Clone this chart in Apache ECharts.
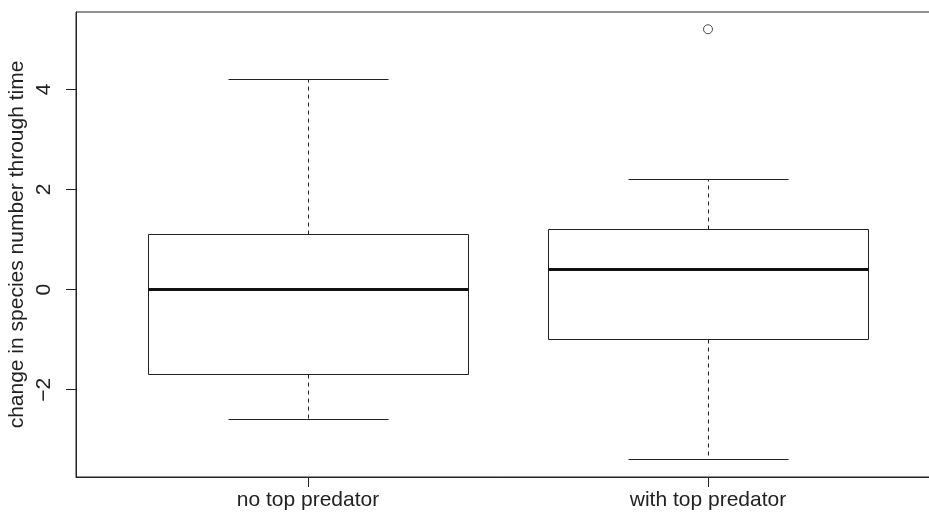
<!DOCTYPE html>
<html>
<head>
<meta charset="utf-8">
<script src="https://cdn.jsdelivr.net/npm/echarts@6/dist/echarts.min.js"></script>
<style>
  html, body { margin: 0; padding: 0; background: #fff; }
  #chart { width: 929px; height: 517px; }
</style>
</head>
<body>
<div id="chart"></div>
<script>
// Group labels and their positions on the x scale
var categories = ['no top predator', 'with top predator'];
var positions = [1, 2];

// Five-number summaries per group
var whiskerLow = [-2.6, -3.4];
var lowerQuartile = [-1.7, -1.0];
var medians = [0, 0.4];
var upperQuartile = [1.1, 1.2];
var whiskerHigh = [4.2, 2.2];

// Points beyond the whiskers
var outlierPositions = [2];
var outlierValues = [5.2];

// Tick marks
var yTicks = [-2, 0, 2, 4];
var xTicks = positions;

var FONT = '"Liberation Sans", Arial, Helvetica, sans-serif';
var INK = '#222';
var FONT_SIZE = 21;

var boxData = positions.map(function (p, i) {
  return [p, whiskerLow[i], lowerQuartile[i], medians[i], upperQuartile[i], whiskerHigh[i]];
});
var outlierData = outlierPositions.map(function (p, i) { return [p, outlierValues[i]]; });

function crisp(v) { return Math.round(v - 0.5) + 0.5; }

function renderBox(params, api) {
  var x = api.value(0);
  var cx = crisp(api.coord([x, 0])[0]);
  var yLow = crisp(api.coord([x, api.value(1)])[1]);
  var yQ1 = crisp(api.coord([x, api.value(2)])[1]);
  var yMed = api.coord([x, api.value(3)])[1];
  var yQ3 = crisp(api.coord([x, api.value(4)])[1]);
  var yHigh = crisp(api.coord([x, api.value(5)])[1]);
  var halfBox = api.size([0.8, 0])[0] / 2;
  var halfCap = api.size([0.4, 0])[0] / 2;
  var left = crisp(cx - halfBox), right = crisp(cx + halfBox);
  var thin = { stroke: INK, lineWidth: 1, fill: null };
  var dashed = { stroke: INK, lineWidth: 1, lineDash: [4, 4], fill: null };
  return {
    type: 'group',
    children: [
      { type: 'line', shape: { x1: cx, y1: yQ3, x2: cx, y2: yHigh }, style: dashed },
      { type: 'line', shape: { x1: cx, y1: yQ1, x2: cx, y2: yLow }, style: dashed },
      { type: 'line', shape: { x1: cx - halfCap, y1: yHigh, x2: cx + halfCap, y2: yHigh }, style: thin },
      { type: 'line', shape: { x1: cx - halfCap, y1: yLow, x2: cx + halfCap, y2: yLow }, style: thin },
      { type: 'rect', shape: { x: left, y: yQ3, width: right - left, height: yQ1 - yQ3 }, style: { stroke: INK, lineWidth: 1, fill: '#fff' } },
      { type: 'line', shape: { x1: left, y1: yMed, x2: right, y2: yMed }, style: { stroke: '#111', lineWidth: 3 } }
    ]
  };
}

var chart = echarts.init(document.getElementById('chart'), null, { renderer: 'canvas' });
chart.setOption({
  animation: false,
  backgroundColor: '#fff',
  grid: {
    left: 76, top: 12, width: 864, height: 465,
    show: true, borderColor: INK, borderWidth: 1, backgroundColor: 'transparent',
    containLabel: false,
    outerBoundsMode: 'none'
  },
  xAxis: {
    type: 'value', min: 0.42, max: 2.58,
    axisLine: { show: true, onZero: false, lineStyle: { color: INK, width: 1 } },
    axisTick: { show: true, customValues: xTicks, length: 10, lineStyle: { color: INK } },
    axisLabel: {
      customValues: xTicks, margin: 13, color: INK, fontFamily: FONT, fontSize: FONT_SIZE,
      formatter: function (v) { return categories[positions.indexOf(v)]; }
    },
    splitLine: { show: false }
  },
  yAxis: {
    type: 'value', min: -3.744, max: 5.544,
    name: 'change in species number through time',
    nameLocation: 'middle', nameGap: 48, nameRotate: 90,
    nameMoveOverlap: false,
    nameTextStyle: { color: INK, fontFamily: FONT, fontSize: FONT_SIZE },
    axisLine: { show: true, onZero: false, lineStyle: { color: INK, width: 1 } },
    axisTick: { show: true, customValues: yTicks, length: 10, lineStyle: { color: INK } },
    axisLabel: {
      customValues: yTicks, rotate: 90, margin: 21, color: INK, fontFamily: FONT, fontSize: FONT_SIZE,
      formatter: function (v) { return v < 0 ? '\u2212' + Math.abs(v) : String(v); }
    },
    splitLine: { show: false }
  },
  series: [
    {
      type: 'custom',
      renderItem: renderBox,
      encode: { x: 0, y: [1, 2, 3, 4, 5] },
      data: boxData,
      z: 2
    },
    {
      type: 'scatter',
      data: outlierData,
      symbol: 'circle',
      symbolSize: 9,
      itemStyle: { color: '#fff', borderColor: INK, borderWidth: 1 },
      z: 3
    }
  ]
});
</script>
</body>
</html>
